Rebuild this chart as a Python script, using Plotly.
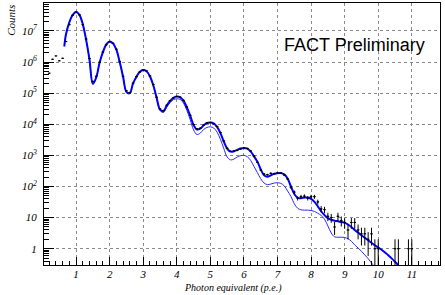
import numpy as np
import plotly.graph_objects as go

# ---- data ----
data_x = [0.2, 0.3, 0.4, 0.5, 0.6, 0.7, 0.8, 0.9, 1.0, 1.1, 1.2, 1.3, 1.4, 1.5, 1.6, 1.7, 1.8, 1.9,
          2.0, 2.1, 2.2, 2.3, 2.4, 2.5, 2.6, 2.7, 2.8, 2.9, 3.0, 3.1, 3.2, 3.3, 3.4, 3.5, 3.6, 3.7,
          3.8, 3.9, 4.0, 4.1, 4.2, 4.3, 4.4, 4.5, 4.6, 4.7, 4.8, 4.9, 5.0, 5.1, 5.2, 5.3, 5.4, 5.5,
          5.6, 5.7, 5.8, 5.9, 6.0, 6.1, 6.2, 6.3, 6.4, 6.5, 6.6, 6.7, 6.8, 6.9, 7.0, 7.1, 7.2, 7.3,
          7.4, 7.5, 7.6, 7.7, 7.8, 7.9, 8.0, 8.1, 8.2, 8.3, 8.4, 8.5, 8.6, 8.7, 8.8, 8.9, 9.0, 9.1,
          9.2, 9.3, 9.4, 9.5, 9.6, 9.7, 9.8, 9.9, 10.0, 10.5, 10.6, 10.9, 11.0]
data_counts = [4.4e5, 1.23e6, 1.58e6, 1.1e6, 1.32e6, 4.6e6, 1.6e7, 3.2e7, 4.1e7, 3.3e7, 1.6e7, 5.5e6,
               1.3e6, 2.4e5, 3.5e5, 9.8e5, 2.1e6, 3.6e6, 4.5e6, 4.0e6, 2.6e6, 1.05e6, 3.5e5, 1.2e5,
               1.05e5, 2.1e5, 3.4e5, 4.8e5, 5.6e5, 5.2e5, 3.6e5, 1.9e5, 7.4e4, 3.1e4, 2.8e4, 4.1e4,
               5.7e4, 7.0e4, 7.8e4, 7.5e4, 5.9e4, 3.6e4, 1.95e4, 9.8e3, 7.2e3, 7.5e3, 9.4e3, 1.1e4,
               1.15e4, 1.05e4, 8.5e3, 5.4e3, 2.9e3, 1.7e3, 1.35e3, 1.38e3, 1.45e3, 1.62e3, 1.75e3,
               1.68e3, 1.38e3, 950, 600, 340, 250, 240, 265, 255, 272, 270, 235, 175,
               95, 66, 42, 47, 49, 42, 47, 47, 32, 19, 18, 11, 10, 5, 11, 8, 7, 4,
               7, 7, 4, 3, 3, 2, 3, 1, 1, 1, 1, 1, 1]

fit_x = [0.65, 0.7, 0.8, 0.9, 1.0, 1.1, 1.2, 1.3, 1.4, 1.5, 1.6, 1.7, 1.8, 1.9, 2.0, 2.1, 2.2, 2.3,
         2.4, 2.5, 2.6, 2.7, 2.8, 2.9, 3.0, 3.1, 3.2, 3.3, 3.4, 3.5, 3.6, 3.7, 3.8, 3.9, 4.0, 4.1,
         4.2, 4.3, 4.4, 4.5, 4.6, 4.7, 4.8, 4.9, 5.0, 5.1, 5.2, 5.3, 5.4, 5.5, 5.6, 5.7, 5.8, 5.9,
         6.0, 6.1, 6.2, 6.3, 6.4, 6.5, 6.6, 6.7, 6.8, 6.9, 7.0, 7.1, 7.2, 7.3, 7.4, 7.5, 7.6, 7.7,
         7.8, 7.9, 8.0, 8.1, 8.2, 8.3, 8.4, 8.5, 8.6, 8.7, 8.8, 8.9, 9.0, 9.1, 9.2, 9.3, 9.4, 9.5,
         9.6, 9.7, 9.8, 9.9, 10.0, 10.1, 10.2, 10.3, 10.4, 10.5, 10.6]
fit_counts = [3.2e6, 7.9e6, 1.9e7, 3.3e7, 4.1e7, 3.3e7, 1.66e7, 5.2e6, 1.2e6, 2.0e5, 3.2e5, 9.5e5,
              2.1e6, 3.7e6, 4.6e6, 4.0e6, 2.5e6, 1.0e6, 3.4e5, 1.1e5, 1.0e5, 2.1e5, 3.4e5, 4.9e5,
              5.6e5, 5.1e5, 3.5e5, 1.8e5, 7.1e4, 3.0e4, 2.6e4, 4.0e4, 5.6e4, 7.1e4, 7.8e4, 7.4e4,
              5.8e4, 3.5e4, 1.9e4, 9.5e3, 6.8e3, 7.2e3, 9.3e3, 1.1e4, 1.15e4, 1.07e4, 8.3e3, 5.2e3,
              2.8e3, 1.66e3, 1.32e3, 1.35e3, 1.5e3, 1.66e3, 1.74e3, 1.66e3, 1.35e3, 930, 630, 355,
              229, 204, 229, 257, 269, 269, 245, 182, 100, 58, 43, 42, 44, 44, 40, 32, 23, 16, 12,
              9.5, 8.5, 7.9, 7.6, 7.2, 6.9, 6.0, 5.0, 4.0, 3.3, 2.7, 2.24, 1.86, 1.55, 1.29, 1.10,
              0.93, 0.76, 0.62, 0.49, 0.38, 0.29]

thin_x = [0.65, 0.7, 0.8, 0.9, 1.0, 1.1, 1.2, 1.3, 1.4, 1.5, 1.6, 1.7, 1.8, 1.9, 2.0, 2.1, 2.2, 2.3,
          2.4, 2.5, 2.6, 2.7, 2.8, 2.9, 3.0, 3.1, 3.2, 3.3, 3.4, 3.5, 3.6, 3.7, 3.8, 3.9, 4.0, 4.1,
          4.2, 4.3, 4.4, 4.5, 4.6, 4.7, 4.8, 4.9, 5.0, 5.1, 5.2, 5.3, 5.4, 5.5, 5.6, 5.7, 5.8, 5.9,
          6.0, 6.1, 6.2, 6.3, 6.4, 6.5, 6.6, 6.7, 6.8, 6.9, 7.0, 7.1, 7.2, 7.3, 7.4, 7.5, 7.6, 7.7,
          7.8, 7.9, 8.0, 8.1, 8.2, 8.3, 8.4, 8.5, 8.6, 8.7, 8.8, 8.9, 9.0, 9.1, 9.2, 9.3, 9.4, 9.5,
          9.6, 9.7, 9.8, 9.9]
thin_counts = [3.2e6, 7.9e6, 1.9e7, 3.3e7, 4.1e7, 3.3e7, 1.66e7, 5.2e6, 1.2e6, 2.0e5, 3.2e5, 9.5e5,
               2.1e6, 3.7e6, 4.6e6, 4.0e6, 2.5e6, 1.0e6, 3.4e5, 1.1e5, 1.0e5, 2.1e5, 3.4e5, 4.9e5,
               5.6e5, 5.1e5, 3.5e5, 1.8e5, 7.0e4, 2.8e4, 2.4e4, 3.5e4, 5.0e4, 6.2e4, 6.6e4, 6.3e4,
               4.8e4, 2.8e4, 1.4e4, 6.6e3, 4.7e3, 5.2e3, 6.8e3, 7.9e3, 8.3e3, 7.6e3, 5.6e3, 3.3e3,
               1.66e3, 890, 720, 760, 890, 980, 1000, 910, 690, 440, 280, 178, 129, 115, 120, 129,
               132, 126, 105, 72, 48, 28, 20, 17.8, 17.4, 17.4, 17, 15.8, 13.8, 11.7, 8.9, 5.4,
               3.2, 2.4, 2.34, 2.34, 2.29, 2.09, 1.74, 1.32, 1.05, 0.83, 0.63, 0.48, 0.35, 0.26]

y_tick_vals = [1, 10, 1e2, 1e3, 1e4, 1e5, 1e6, 1e7]
y_tick_text = ["<i>1</i>", "<i>10</i>", "<i>10<sup>2</sup></i>", "<i>10<sup>3</sup></i>",
               "<i>10<sup>4</sup></i>", "<i>10<sup>5</sup></i>", "<i>10<sup>6</sup></i>",
               "<i>10<sup>7</sup></i>"]
x_tick_vals = [1, 2, 3, 4, 5, 6, 7, 8, 9, 10, 11]
x_tick_text = ["<i>%d</i>" % v for v in x_tick_vals]

# ---- figure ----
cnt = np.array(data_counts, dtype=float)
err = np.sqrt(cnt)
err_minus = np.minimum(err, cnt * 0.9999)

fig = go.Figure()
fig.add_trace(go.Scatter(x=thin_x, y=thin_counts, mode="lines",
                         line=dict(color="#2a2aff", width=1, shape="spline", smoothing=1),
                         hoverinfo="skip", showlegend=False))
fig.add_trace(go.Scatter(x=fit_x, y=fit_counts, mode="lines",
                         line=dict(color="#0000ff", width=2, shape="spline", smoothing=1),
                         hoverinfo="skip", showlegend=False))
fig.add_trace(go.Scatter(x=data_x, y=data_counts, mode="markers",
                         marker=dict(color="black", size=1.5),
                         error_y=dict(type="data", array=err, arrayminus=err_minus,
                                      color="black", thickness=1, width=0),
                         error_x=dict(type="constant", value=0.04, color="black",
                                      thickness=1, width=0),
                         hoverinfo="skip", showlegend=False))

serif = "Liberation Serif"
minor_y = [m * 10 ** e for e in range(-1, 8) for m in range(2, 10)]

fig.update_layout(
    template="none",
    width=445, height=295,
    margin=dict(l=44, r=5, t=3, b=30, pad=0),
    paper_bgcolor="white", plot_bgcolor="white",
    font=dict(family=serif, size=11, color="black"),
    xaxis=dict(range=[0.045, 11.84], tickmode="array", tickvals=x_tick_vals,
               ticktext=x_tick_text, ticks="inside", ticklen=8, tickcolor="black",
               showline=True, linecolor="black", linewidth=1, mirror=True,
               showgrid=True, gridcolor="#8a8a8a", griddash="dot", gridwidth=1,
               zeroline=False, ticklabelstandoff=-1, automargin=False,
               tickfont=dict(family=serif, size=11, color="black"),
               minor=dict(ticks="inside", ticklen=4, tickcolor="black", dtick=0.2,
                          tick0=0, showgrid=False)),
    yaxis=dict(type="log", range=[-0.524, 7.90], tickmode="array", tickvals=y_tick_vals,
               ticktext=y_tick_text, ticks="inside", ticklen=10, tickcolor="black",
               showline=True, linecolor="black", linewidth=1, mirror=True,
               showgrid=True, gridcolor="#8a8a8a", griddash="dot", gridwidth=1,
               zeroline=False, ticklabelstandoff=4, automargin=False,
               tickfont=dict(family=serif, size=11, color="black"),
               minor=dict(ticks="inside", ticklen=5, tickcolor="black", tickmode="array",
                          tickvals=minor_y, showgrid=False)),
    annotations=[
        dict(text="FACT Preliminary", xref="paper", yref="paper", x=0.602, y=0.838,
             xanchor="left", yanchor="middle", showarrow=False,
             font=dict(family="Liberation Sans", size=18, color="black")),
        dict(text="<i>Photon equivalent (p.e.)</i>", xref="paper", yref="paper",
             x=0.605, y=-0.086, xanchor="right", yanchor="middle", showarrow=False,
             font=dict(family=serif, size=10, color="black")),
        dict(text="<i>Counts</i>", xref="paper", yref="paper", x=-0.085, y=1.0,
             xanchor="center", yanchor="top", showarrow=False, textangle=-90,
             font=dict(family=serif, size=11, color="black")),
    ],
)

fig.write_html("out.html", config={"displayModeBar": False},
               post_script="document.body.style.margin='0px';document.body.style.padding='0px';")
